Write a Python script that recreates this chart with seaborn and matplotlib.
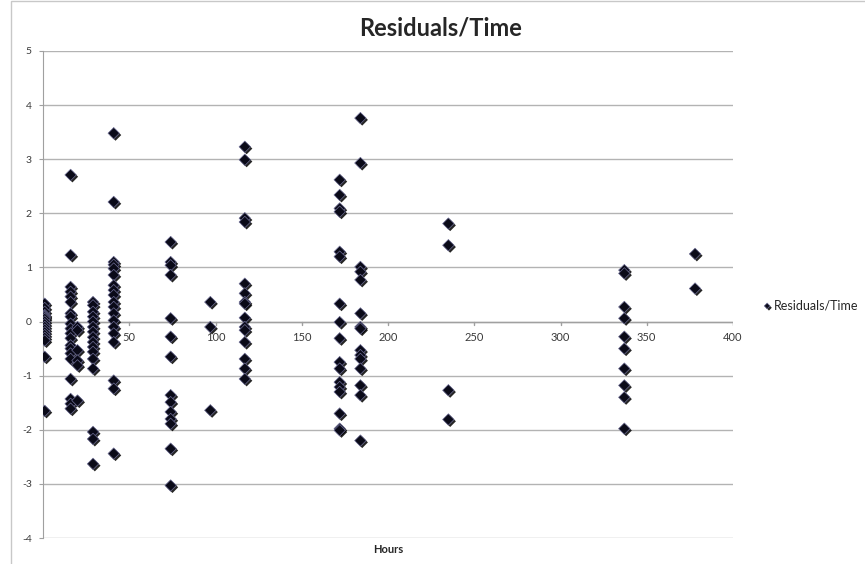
import pandas as pd
import seaborn as sns
import numpy as np
import matplotlib.pyplot as plt
import matplotlib.patheffects as pe
from matplotlib.patches import Rectangle

# residuals per sampling time
h_000 = [1] * 17
r_000 = [0.33, 0.25, 0.18, 0.12, 0.10, 0.08, 0.05, 0.0, -0.05, -0.10, -0.15,
         -0.20, -0.25, -0.30, -0.35, -0.65, -1.65]
h_016 = [16] * 20
r_016 = [2.71, 1.23, 0.64, 0.55, 0.46, 0.36, 0.15, 0.09, -0.04, -0.13, -0.22,
         -0.31, -0.44, -0.50, -0.59, -0.69, -1.06, -1.43, -1.52, -1.61]
h_020 = [20] * 6
r_020 = [-0.10, -0.16, -0.53, -0.72, -0.81, -1.46]
h_029 = [29] * 16
r_029 = [0.36, 0.30, 0.18, 0.09, 0.0, -0.10, -0.19, -0.29, -0.38, -0.47,
         -0.56, -0.69, -0.87, -2.04, -2.17, -2.63]
h_041 = [41] * 19
r_041 = [3.48, 2.21, 1.10, 1.05, 0.98, 0.86, 0.67, 0.58, 0.49, 0.36, 0.27,
         0.15, 0.02, -0.10, -0.22, -0.38, -1.09, -1.24, -2.44]
h_074 = [74] * 14
r_074 = [1.47, 1.10, 1.04, 0.86, 0.06, -0.28, -0.65, -1.36, -1.49, -1.67,
         -1.80, -1.89, -2.35, -3.03]
h_097 = [97] * 3
r_097 = [0.36, -0.10, -1.64]
h_117 = [117] * 15
r_117 = [3.23, 2.99, 1.91, 1.84, 0.70, 0.52, 0.36, 0.33, 0.07, -0.10, -0.16,
         -0.38, -0.69, -0.87, -1.06]
h_172 = [172] * 17
r_172 = [2.62, 2.34, 2.09, 2.03, 1.29, 1.20, 0.33, -0.01, -0.31, -0.75, -0.87,
         -1.12, -1.21, -1.30, -1.70, -1.98, -2.01]
h_184 = [184] * 15
r_184 = [3.76, 2.93, 1.01, 0.92, 0.77, 0.15, -0.10, -0.13, -0.53, -0.62,
         -0.69, -0.87, -1.18, -1.36, -2.20]
h_235 = [235] * 4
r_235 = [1.81, 1.41, -1.27, -1.81]
h_337 = [337] * 10
r_337 = [0.95, 0.89, 0.27, 0.06, -0.28, -0.50, -0.87, -1.18, -1.40, -1.98]
h_378 = [378] * 2
r_378 = [1.25, 0.61]

hours = h_000 + h_016 + h_020 + h_029 + h_041 + h_074 + h_097 + h_117 + h_172 + h_184 + h_235 + h_337 + h_378
resid = r_000 + r_016 + r_020 + r_029 + r_041 + r_074 + r_097 + r_117 + r_172 + r_184 + r_235 + r_337 + r_378

df = pd.DataFrame({'Hours': hours, 'Residuals/Time': resid})

sns.set_style('white')
plt.rcParams['font.family'] = ['Lato', 'DejaVu Sans']
plt.rcParams['axes.unicode_minus'] = False

fig = plt.figure(figsize=(8.65, 5.64), dpi=100)
ax = fig.add_axes([43 / 865, 26 / 564, 690 / 865, 487 / 564])

# chart area border
fig.patches.append(Rectangle((11 / 865, -0.01), 1.0, 1.008, transform=fig.transFigure,
                             fill=False, edgecolor='#c8c8c8', linewidth=1))

sns.scatterplot(data=df, x='Hours', y='Residuals/Time', ax=ax, marker='D', s=34,
                color='#0a0a18', edgecolor='#6c6c94', linewidth=0.5,
                label='Residuals/Time', zorder=5)
ax.collections[0].set_path_effects([pe.SimplePatchShadow(offset=(1.3, -1.3), shadow_rgbFace='black', alpha=0.85),
                                    pe.Normal()])

ax.set_xlim(0, 400)
ax.set_ylim(-4, 5)
ax.set_yticks(range(-4, 6))
ax.grid(False)
for yv in range(-4, 6):
    ax.axhline(yv, color='#b3b3b3', linewidth=1, zorder=1)

for s in ['top', 'right', 'bottom']:
    ax.spines[s].set_visible(False)
ax.spines['left'].set_color('#a0a0a0')
ax.spines['left'].set_position(('data', 0))

# x axis crossing at 0
ax.plot([0, 400], [0, 0], color='#a0a0a0', linewidth=1, zorder=2)
xt = list(range(50, 401, 50))
ax.set_xticks([])
for xv in xt:
    ax.plot([xv, xv], [0, -0.07], color='#a0a0a0', linewidth=1, zorder=2)
    ax.text(xv, -0.19, str(xv), ha='center', va='top', fontsize=8, color='#3a3a3a')

ax.tick_params(axis='y', left=True, length=3, color='#a0a0a0', labelsize=7.5, labelcolor='#3a3a3a', pad=5)
ax.set_xlabel('Hours', fontsize=8, fontweight='bold', labelpad=4)
ax.set_ylabel('')

fig.text(441 / 865, 0.95, 'Residuals/Time', ha='center', va='center', fontsize=17, fontweight='bold')

leg = ax.legend(loc='center left', bbox_to_anchor=(1.035, 0.478), frameon=False, fontsize=9,
                handletextpad=0.1, markerscale=0.5, handlelength=0.8, borderaxespad=0)

fig.savefig('out.png', dpi=100)
